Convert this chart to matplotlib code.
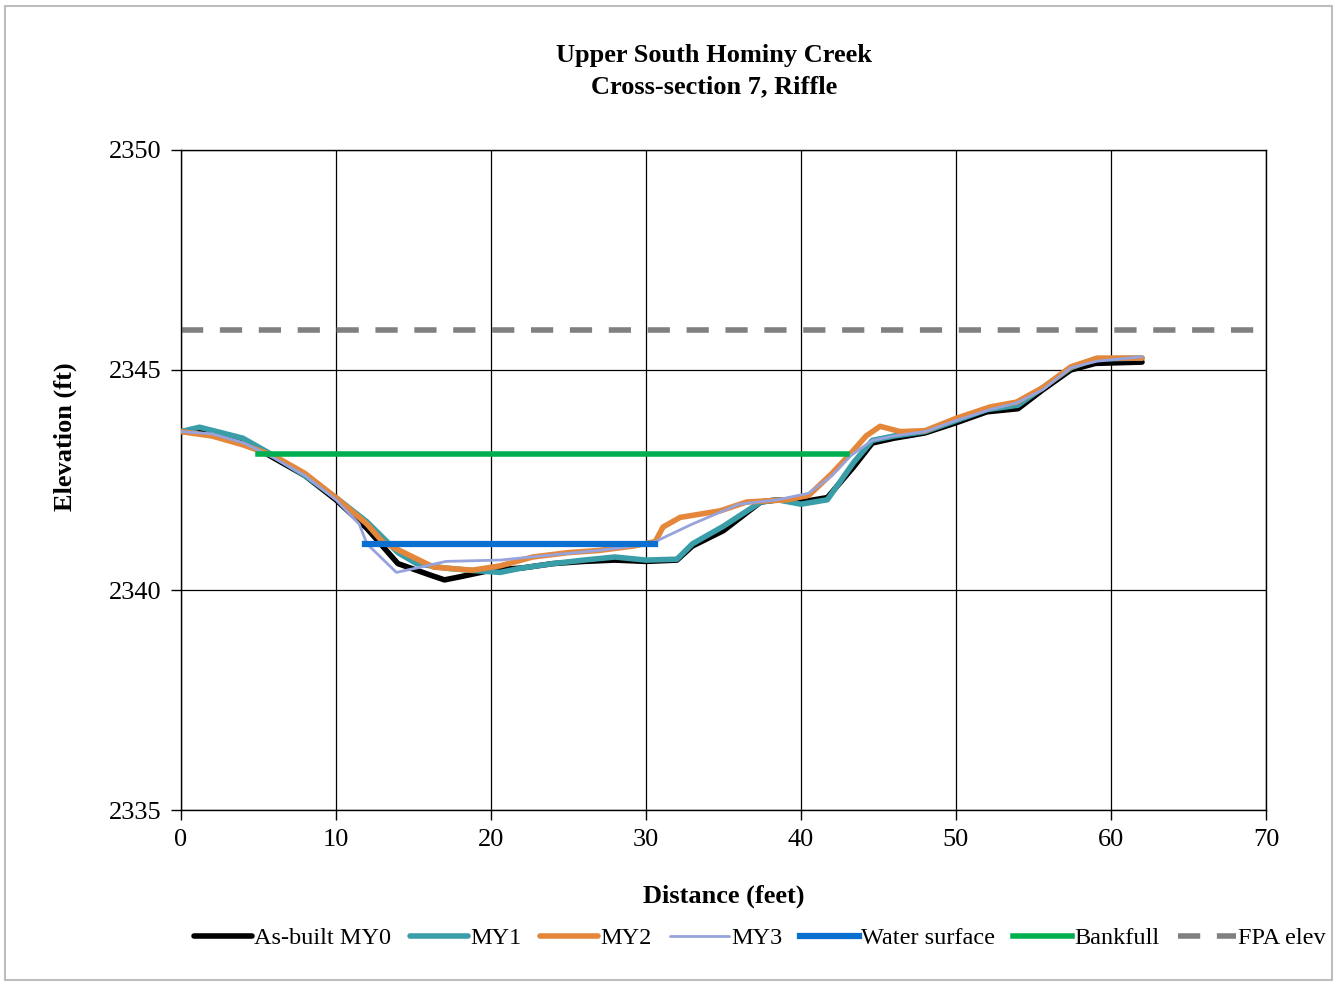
import numpy as np
import matplotlib.pyplot as plt
from matplotlib.patches import Rectangle

# cross-section survey data (distance ft, elevation ft)
x_my0 = [0, 2, 4, 6, 8, 10, 12, 13, 14, 16, 17, 18, 20, 22, 24, 26, 28, 30, 32,
         33, 35, 37.4, 38.5, 40, 41.7, 43.4, 44.6, 46, 48, 50, 52, 54, 55.6, 57.4, 59, 62]
y_my0 = [2343.6, 2343.6, 2343.4, 2343.0, 2342.6, 2342.05, 2341.4, 2341.0, 2340.6, 2340.35,
         2340.23, 2340.3, 2340.45, 2340.5, 2340.6, 2340.65, 2340.68, 2340.65, 2340.68,
         2341.0, 2341.35, 2342.0, 2342.05, 2342.0, 2342.1, 2342.8, 2343.34, 2343.45,
         2343.57, 2343.8, 2344.05, 2344.12, 2344.55, 2345.0, 2345.15, 2345.18]

x_my1 = [0, 1.2, 4, 6, 8, 10, 12, 13, 14, 15.2, 17, 18.6, 20.6, 22, 24, 26, 28, 30, 32,
         33, 35, 37.4, 38.5, 40, 41.7, 43.4, 44.6, 46, 48, 50, 52, 54, 55.6, 57.4, 59, 62]
y_my1 = [2343.6, 2343.7, 2343.45, 2343.05, 2342.6, 2342.1, 2341.55, 2341.2, 2340.85, 2340.6,
         2340.5, 2340.45, 2340.4, 2340.5, 2340.6, 2340.68, 2340.75, 2340.68, 2340.7,
         2341.05, 2341.45, 2342.0, 2342.05, 2341.95, 2342.05, 2342.9, 2343.4, 2343.5,
         2343.6, 2343.85, 2344.1, 2344.2, 2344.6, 2345.05, 2345.25, 2345.27]

x_my2 = [0, 2, 4, 6, 8, 10, 12, 13, 14.1, 16.3, 18.8, 20.6, 22.7, 25, 27, 29.2, 30.6, 31.1, 32.2,
         34.8, 36.5, 39.1, 40.5, 42, 43.2, 44.2, 45.1, 46.4, 48, 50, 52.2, 53.9, 55.6, 57.4, 59.1, 62]
y_my2 = [2343.6, 2343.5, 2343.3, 2343.05, 2342.65, 2342.1, 2341.5, 2341.1, 2340.9, 2340.52,
         2340.45, 2340.55, 2340.75, 2340.85, 2340.9, 2341.0, 2341.1, 2341.43, 2341.65,
         2341.8, 2342.0, 2342.05, 2342.15, 2342.65, 2343.1, 2343.5, 2343.72, 2343.6,
         2343.62, 2343.9, 2344.16, 2344.27, 2344.6, 2345.07, 2345.27, 2345.27]

x_my3 = [0, 2, 4, 6, 8, 10, 11.5, 12, 13.9, 15.2, 17.1, 20.6, 24, 27, 29.2, 30.6, 33, 36,
         38.5, 40.5, 42, 43.2, 44.6, 46, 48, 50, 52.2, 53.9, 55.6, 57.4, 59.1, 62]
y_my3 = [2343.6, 2343.55, 2343.35, 2343.0, 2342.6, 2342.05, 2341.5, 2341.05, 2340.4, 2340.5,
         2340.65, 2340.68, 2340.8, 2340.9, 2341.0, 2341.1, 2341.5, 2341.95, 2342.05,
         2342.2, 2342.6, 2343.05, 2343.4, 2343.5, 2343.6, 2343.85, 2344.1, 2344.25,
         2344.55, 2345.05, 2345.2, 2345.3]

x_water = [11.9, 30.6]
y_water = [2341.05, 2341.05]
x_bankfull = [5.0, 43.0]
y_bankfull = [2343.1, 2343.1]
x_fpa = [0, 70]
y_fpa = [2345.9, 2345.9]

plt.rcParams['font.family'] = ['Liberation Serif', 'DejaVu Serif']

fig = plt.figure(figsize=(13.4, 9.84), dpi=100)
ax = fig.add_axes([0.135, 0.1768, 0.8098, 0.6708])

kw = dict(solid_joinstyle='round', solid_capstyle='round')
ax.plot(x_fpa, y_fpa, color='#808080', lw=4, dashes=(4, 3), label='FPA elev', zorder=2)
ax.plot(x_my0, y_my0, color='black', lw=4, label='As-built MY0', zorder=3, **kw)
ax.plot(x_my1, y_my1, color='#3a9ea8', lw=4, label='MY1', zorder=4, **kw)
ax.plot(x_my2, y_my2, color='#e5873a', lw=4, label='MY2', zorder=5, **kw)
ax.plot(x_my3, y_my3, color='#97a3dc', lw=2, label='MY3', zorder=6, **kw)
ax.plot(x_water, y_water, color='#0a6fd0', lw=4.5, label='Water surface', zorder=7)
ax.plot(x_bankfull, y_bankfull, color='#00b050', lw=4, label='Bankfull', zorder=7)

ax.set_xlim(0, 70)
ax.set_ylim(2335, 2350)
ax.set_xticks(np.arange(0, 71, 10))
ax.set_yticks(np.arange(2335, 2351, 5))
ax.grid(True, color='black', lw=0.9)
ax.tick_params(labelsize=19, length=7, width=1, pad=7)
for s in ax.spines.values():
    s.set_linewidth(1)

ax.set_xlabel('Distance (feet)', fontsize=19, fontweight='bold', labelpad=24)
ax.set_ylabel('Elevation (ft)', fontsize=19, fontweight='bold', labelpad=22)
ax.yaxis.set_label_coords(-0.096, 0.565)

fig.text(0.533, 1 - 71 / 984, 'Upper South Hominy Creek\nCross-section 7, Riffle',
         fontsize=19, fontweight='bold', ha='center', va='center', linespacing=1.45)

h, l = ax.get_legend_handles_labels()
order = ['As-built MY0', 'MY1', 'MY2', 'MY3', 'Water surface', 'Bankfull', 'FPA elev']
hd = dict(zip(l, h))
fig.legend([hd[k] for k in order], order, loc='center', ncol=7,
           bbox_to_anchor=(0.567, 1 - 938 / 984), frameon=False, fontsize=17.5,
           handlelength=2.4, handletextpad=0.1, columnspacing=0.75)

fig.add_artist(Rectangle((0.004, 0.004), 0.99, 0.99, transform=fig.transFigure,
                         fill=False, edgecolor='#bdbdbd', lw=1.5))

fig.savefig('out.png', dpi=100)
